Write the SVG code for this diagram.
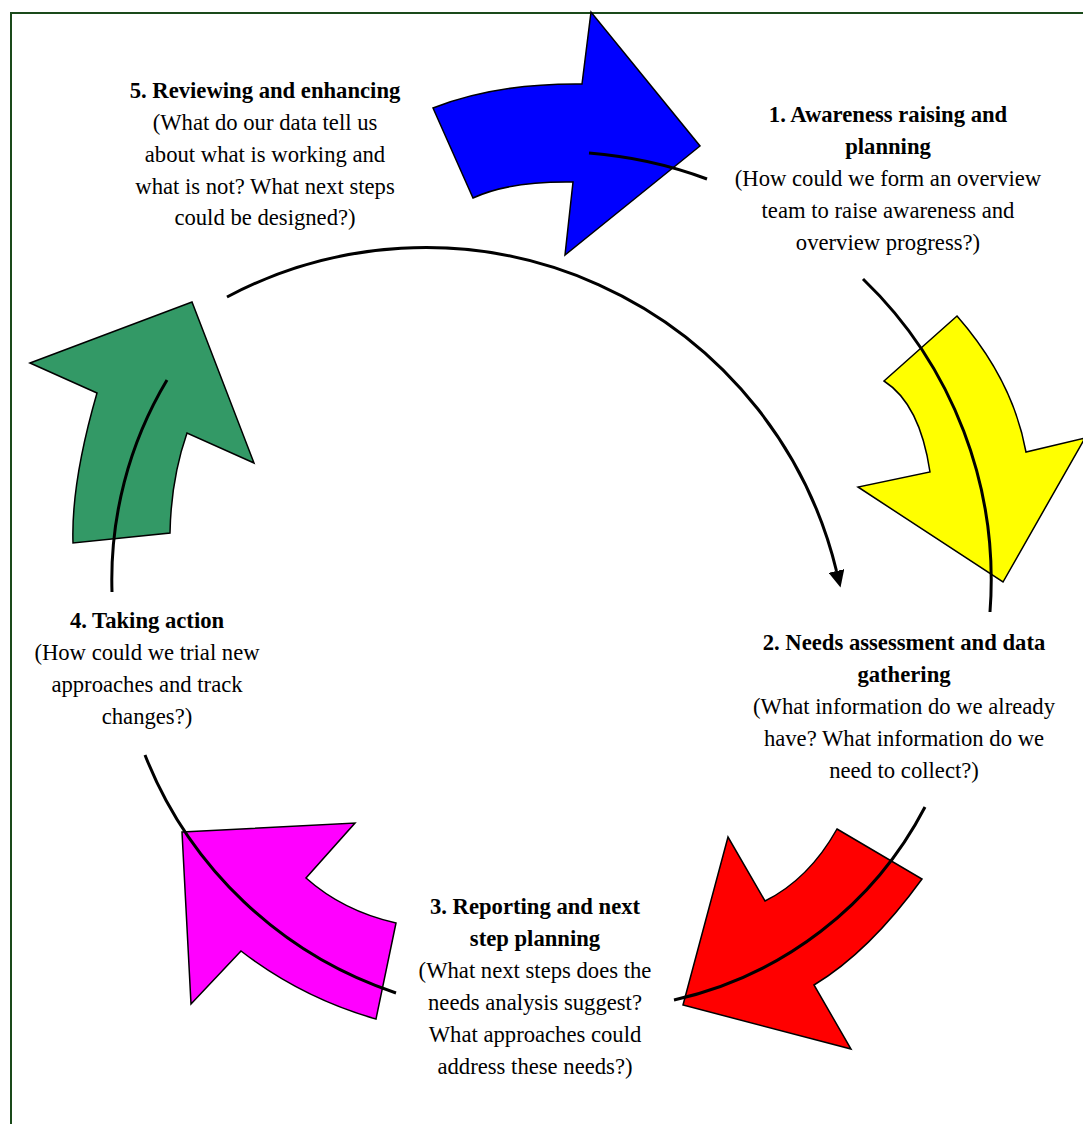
<svg xmlns="http://www.w3.org/2000/svg" width="1083" height="1124" viewBox="0 0 1083 1124">
  <style>
    .bg { fill: #ffffff; }
    .frame { fill: none; stroke: #1a4a1a; stroke-width: 2; }
    .arrow { stroke: #000000; stroke-width: 1.5; stroke-linejoin: miter; }
    .conn { fill: none; stroke: #000000; stroke-width: 3; }
    .t { font-family: "Liberation Serif", "Times New Roman", serif; font-size: 22.67px; fill: #000000; text-anchor: middle; }
    .b { font-weight: bold; }
  </style>
  <defs>
    <marker id="head" markerUnits="userSpaceOnUse" viewBox="0 -8 17 16" markerWidth="17" markerHeight="16" refX="0" refY="0" orient="auto">
      <polygon points="0,-8 17,0 0,8" fill="#000000"/>
    </marker>
  </defs>

  <rect class="bg" x="0" y="0" width="1083" height="1124"/>
  <rect class="frame" x="11" y="13" width="1100" height="1130"/>

  <g id="arrows">
    <path id="arrow-blue" class="arrow" fill="#0000ff" d="M433,108 Q497,83 582,84 L591,12 L700,146 L565,255 L573,182 Q510,181 473,198 Z"/>
    <path id="arrow-yellow" class="arrow" fill="#ffff00" d="M884,381 L957,316 Q1013,380 1026,452 L1085,438 L1003,582 L858,487 L930,472 Q920,404 884,381 Z"/>
    <path id="arrow-red" class="arrow" fill="#ff0000" d="M837,829 L922,879 Q869,952 814,985 L851,1049 L683,1005 L728,837 L765,901 Q809,879 837,829 Z"/>
    <path id="arrow-magenta" class="arrow" fill="#ff00ff" d="M182,832 L355,823 L306,878 Q343,911 396,923 L376,1019 Q302,998 241,951 L191,1004 Z"/>
    <path id="arrow-green" class="arrow" fill="#339966" d="M30,363 L192,302 L254,463 L187,433 Q171,479 170,533 L73,543 Q71,483 97,393 Z"/>
  </g>

  <g id="connectors">
    <path class="conn" d="M589,153 A435,435 0 0 1 707,179"/>
    <path class="conn" d="M863,279 A418,418 0 0 1 990,612"/>
    <path class="conn" d="M925,807 A375,375 0 0 1 674,1000"/>
    <path class="conn" d="M396,993 A408,408 0 0 1 145,755"/>
    <path class="conn" d="M112,592 A389,389 0 0 1 167,380"/>
    <path class="conn" d="M227,297 A423,423 0 0 1 836.5,571" marker-end="url(#head)"/>
  </g>

  <g id="node-5">
    <text class="t b" x="265" y="98">5. Reviewing and enhancing</text>
    <text class="t" x="265" y="130">(What do our data tell us</text>
    <text class="t" x="265" y="162">about what is working and</text>
    <text class="t" x="265" y="194">what is not? What next steps</text>
    <text class="t" x="265" y="225">could be designed?)</text>
  </g>

  <g id="node-1">
    <text class="t b" x="888" y="122">1. Awareness raising and</text>
    <text class="t b" x="888" y="154">planning</text>
    <text class="t" x="888" y="186">(How could we form an overview</text>
    <text class="t" x="888" y="218">team to raise awareness and</text>
    <text class="t" x="888" y="250">overview progress?)</text>
  </g>

  <g id="node-2">
    <text class="t b" x="904" y="650">2. Needs assessment and data</text>
    <text class="t b" x="904" y="682">gathering</text>
    <text class="t" x="904" y="714">(What information do we already</text>
    <text class="t" x="904" y="746">have? What information do we</text>
    <text class="t" x="904" y="778">need to collect?)</text>
  </g>

  <g id="node-3">
    <text class="t b" x="535" y="914">3. Reporting and next</text>
    <text class="t b" x="535" y="946">step planning</text>
    <text class="t" x="535" y="978">(What next steps does the</text>
    <text class="t" x="535" y="1010">needs analysis suggest?</text>
    <text class="t" x="535" y="1042">What approaches could</text>
    <text class="t" x="535" y="1074">address these needs?)</text>
  </g>

  <g id="node-4">
    <text class="t b" x="147" y="628">4. Taking action</text>
    <text class="t" x="147" y="660">(How could we trial new</text>
    <text class="t" x="147" y="692">approaches and track</text>
    <text class="t" x="147" y="724">changes?)</text>
  </g>
</svg>
